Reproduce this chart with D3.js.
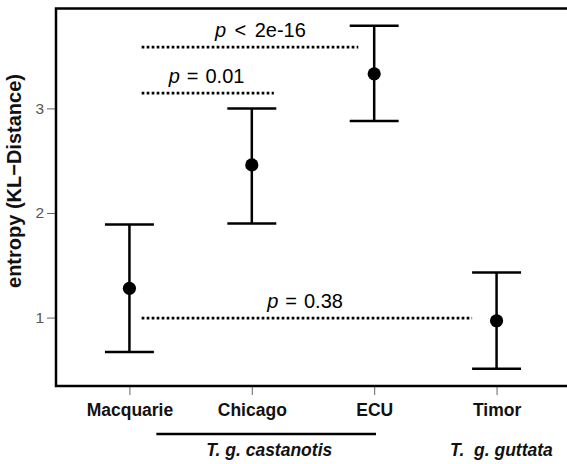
<!DOCTYPE html>
<html>
<head>
<meta charset="utf-8">
<script src="https://cdn.jsdelivr.net/npm/d3@7"></script>
<style>
  body { margin: 0; background: #fff; }
  svg { display: block; font-family: "Liberation Sans", Arial, Helvetica, sans-serif; }
</style>
</head>
<body>
<svg id="chart"></svg>
<script>
// populations and their entropy estimates (mean with interval)
var categories = ["Macquarie", "Chicago", "ECU", "Timor"];
var means = [1.28, 2.46, 3.33, 0.97];
var lower = [0.67, 1.90, 2.88, 0.51];
var upper = [1.89, 3.00, 3.79, 1.43];
var yTicks = [1, 2, 3];

// pairwise comparisons drawn as dotted segments (data units)
var compOps = ["<", "=", "="];
var compValues = ["2e-16", "0.01", "0.38"];
var compX0 = [1.10, 1.10, 1.10];
var compX1 = [2.87, 2.18, 3.80];
var compY = [3.586, 3.146, 0.995];
var compTextX = [2.07, 1.63, 2.435];

// subspecies grouping under the axis
var speciesNames = ["T. g. castanotis", "T.  g. guttata"];
var speciesMembers = [["Chicago", "ECU"], ["Timor"]];

var W = 567, H = 464;
var margin = { top: 8.5, right: -3, bottom: 78, left: 56 };

var svg = d3.select("#chart").attr("width", W).attr("height", H);
svg.append("rect").attr("width", W).attr("height", H).attr("fill", "#fff");

var x = d3.scaleLinear().domain([0.4, 4.6]).range([margin.left, W - margin.right]);
var y = d3.scaleLinear().domain([0.346, 3.955]).range([H - margin.bottom, margin.top]);

// y axis
var yAxis = svg.append("g")
    .attr("transform", "translate(" + (margin.left - 1) + ",0)")
    .call(d3.axisLeft(y).tickValues(yTicks).tickSize(8).tickPadding(3).tickFormat(d3.format("d")));
yAxis.select(".domain").remove();
yAxis.selectAll("line").attr("stroke", "#666").attr("stroke-width", 1);
yAxis.selectAll("text").attr("fill", "#555").style("font-size", "15.5px");

// x axis
var xAxis = svg.append("g")
    .attr("transform", "translate(0," + (H - margin.bottom + 1) + ")")
    .call(d3.axisBottom(x).tickValues([1, 2, 3, 4]).tickSize(8).tickPadding(8.5)
        .tickFormat(function (d) { return categories[d - 1]; }));
xAxis.select(".domain").remove();
xAxis.selectAll("line").attr("stroke", "#666").attr("stroke-width", 1);
xAxis.selectAll("text").attr("fill", "#111").style("font-size", "17.5px").style("font-weight", "bold");

// y title
svg.append("text")
    .attr("transform", "translate(21,181) rotate(-90)")
    .attr("text-anchor", "middle")
    .style("font-size", "20px")
    .style("font-weight", "bold")
    .attr("fill", "#111")
    .text("entropy (KL\u2212Distance)");

// frame (right side runs off the picture)
svg.append("rect")
    .attr("x", margin.left)
    .attr("y", margin.top)
    .attr("width", W - margin.right - margin.left + 4)
    .attr("height", H - margin.bottom - margin.top)
    .attr("fill", "none")
    .attr("stroke", "#000")
    .attr("stroke-width", 2.5);

// comparison segments
var comps = compOps.map(function (op, i) {
    return { op: op, value: compValues[i], x0: compX0[i], x1: compX1[i], y: compY[i], tx: compTextX[i] };
});

svg.selectAll(".comp")
    .data(comps).enter()
    .append("line")
    .attr("class", "comp")
    .attr("x1", function (d) { return x(d.x0); })
    .attr("x2", function (d) { return x(d.x1); })
    .attr("y1", function (d) { return y(d.y); })
    .attr("y2", function (d) { return y(d.y); })
    .attr("stroke", "#000")
    .attr("stroke-width", 2.7)
    .attr("stroke-dasharray", "2.7,2.3");

var compText = svg.selectAll(".compText")
    .data(comps).enter()
    .append("text")
    .attr("class", "compText")
    .attr("x", function (d) { return x(d.tx); })
    .attr("y", function (d) { return y(d.y) - 10; })
    .attr("text-anchor", "middle")
    .style("font-size", "20px")
    .attr("fill", "#000");
compText.append("tspan").style("font-style", "italic").text("p");
compText.append("tspan")
    .attr("dx", function (d) { return d.op == "<" ? 8.5 : 7; })
    .text(function (d) { return d.op; });
compText.append("tspan")
    .attr("dx", function (d) { return d.op == "<" ? 8.5 : 7; })
    .text(function (d) { return d.value; });

// error bars
var pts = categories.map(function (c, i) {
    return { name: c, pos: i + 1, mean: means[i], lo: lower[i], hi: upper[i] };
});
var capHalf = 0.2;

var bars = svg.selectAll(".bar").data(pts).enter().append("g").attr("class", "bar");
bars.append("line")
    .attr("x1", function (d) { return x(d.pos); })
    .attr("x2", function (d) { return x(d.pos); })
    .attr("y1", function (d) { return y(d.lo); })
    .attr("y2", function (d) { return y(d.hi); })
    .attr("stroke", "#000").attr("stroke-width", 2.5);
["lo", "hi"].forEach(function (k) {
    bars.append("line")
        .attr("x1", function (d) { return x(d.pos - capHalf); })
        .attr("x2", function (d) { return x(d.pos + capHalf); })
        .attr("y1", function (d) { return y(d[k]); })
        .attr("y2", function (d) { return y(d[k]); })
        .attr("stroke", "#000").attr("stroke-width", 2.5);
});
bars.append("circle")
    .attr("cx", function (d) { return x(d.pos); })
    .attr("cy", function (d) { return y(d.mean); })
    .attr("r", 6.6)
    .attr("fill", "#000");

// subspecies labels
var species = speciesNames.map(function (n, i) {
    var idx = speciesMembers[i].map(function (m) { return categories.indexOf(m) + 1; });
    return { name: n, first: d3.min(idx), last: d3.max(idx) };
});
species.forEach(function (s) {
    if (s.last > s.first) {
        svg.append("line")
            .attr("x1", x(s.first - 0.78))
            .attr("x2", x(s.last + 0.015))
            .attr("y1", 434).attr("y2", 434)
            .attr("stroke", "#000").attr("stroke-width", 2.7);
        svg.append("text")
            .attr("x", (x(s.first - 0.78) + x(s.last + 0.015)) / 2 + 3)
            .attr("y", 456)
            .attr("text-anchor", "middle")
            .style("font-size", "17.5px").style("font-weight", "bold").style("font-style", "italic")
            .style("white-space", "pre")
            .attr("fill", "#111")
            .text(s.name);
    } else {
        svg.append("text")
            .attr("x", x(s.first + 0.04))
            .attr("y", 456)
            .attr("text-anchor", "middle")
            .style("font-size", "17.5px").style("font-weight", "bold").style("font-style", "italic")
            .style("white-space", "pre")
            .attr("fill", "#111")
            .text(s.name);
    }
});
</script>
</body>
</html>
